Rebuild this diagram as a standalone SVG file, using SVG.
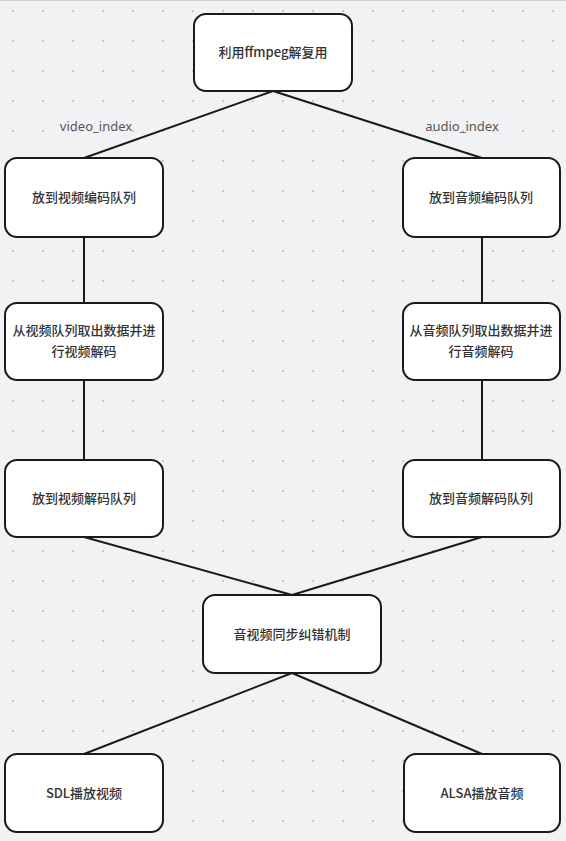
<svg xmlns="http://www.w3.org/2000/svg" width="566" height="841" viewBox="0 0 566 841">
<defs>
<pattern id="dots" x="12" y="10" width="30" height="30" patternUnits="userSpaceOnUse">
<rect x="0" y="0" width="2" height="2" fill="#c8c8cc"/>
</pattern>
<style>
.n{fill:#fff;stroke:#1a1a1a;stroke-width:2}
.t{font-family:"Noto Sans CJK SC","Noto Sans",sans-serif;font-size:13px;font-weight:500;fill:#333;text-anchor:middle}
.l{font-family:"Noto Sans","Open Sans",sans-serif;font-size:13px;fill:#555;text-anchor:middle}
.c{stroke:#1a1a1a;stroke-width:2;fill:none}
</style>
</defs>
<rect width="566" height="841" fill="#f2f2f4"/>
<rect width="566" height="841" fill="url(#dots)"/>
<line x1="0" y1="0.5" x2="566" y2="0.5" stroke="#d0d0d4"/>
<g id="connectors">
<path class="c" d="M273 91 L84 158"/>
<path class="c" d="M273 91 L482 158"/>
<path class="c" d="M84 237 L84 303"/>
<path class="c" d="M84 380 L84 460"/>
<path class="c" d="M482 237 L482 303"/>
<path class="c" d="M482 380 L482 460"/>
<path class="c" d="M84 537 L292 595"/>
<path class="c" d="M482 537 L292 595"/>
<path class="c" d="M292 673 L84 754"/>
<path class="c" d="M292 673 L482 754"/>
<text class="l" x="96" y="131">video_index</text>
<text class="l" x="462" y="131">audio_index</text>
</g>
<g id="demux"><rect class="n" x="194" y="14" width="158" height="77" rx="12"/><text class="t" x="273" y="57">利用ffmpeg解复用</text></g>
<g id="vq"><rect class="n" x="5" y="158" width="158" height="79" rx="12"/><text class="t" x="84" y="202">放到视频编码队列</text></g>
<g id="aq"><rect class="n" x="403" y="158" width="157" height="79" rx="12"/><text class="t" x="481" y="202">放到音频编码队列</text></g>
<g id="vd"><rect class="n" x="5" y="303" width="158" height="77" rx="12"/><text class="t" x="84" y="335">从视频队列取出数据并进</text><text class="t" x="84" y="356">行视频解码</text></g>
<g id="ad"><rect class="n" x="403" y="303" width="157" height="77" rx="12"/><text class="t" x="481" y="335">从音频队列取出数据并进</text><text class="t" x="481" y="356">行音频解码</text></g>
<g id="vdq"><rect class="n" x="5" y="460" width="158" height="77" rx="12"/><text class="t" x="84" y="503">放到视频解码队列</text></g>
<g id="adq"><rect class="n" x="403" y="460" width="157" height="77" rx="12"/><text class="t" x="481" y="503">放到音频解码队列</text></g>
<g id="sync"><rect class="n" x="203" y="595" width="178" height="78" rx="12"/><text class="t" x="292" y="639">音视频同步纠错机制</text></g>
<g id="sdl"><rect class="n" x="5" y="754" width="158" height="78" rx="12"/><text class="t" x="84" y="798">SDL播放视频</text></g>
<g id="alsa"><rect class="n" x="404" y="754" width="156" height="78" rx="12"/><text class="t" x="482" y="798">ALSA播放音频</text></g>
</svg>
